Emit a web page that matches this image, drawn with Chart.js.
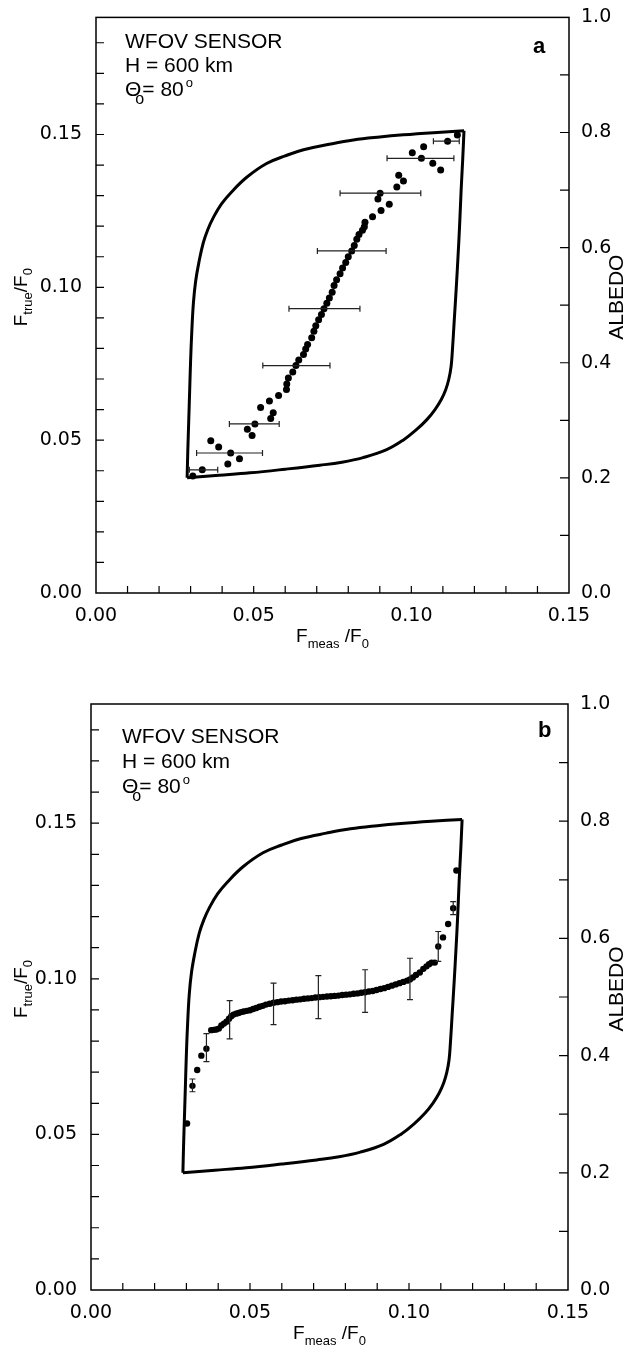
<!DOCTYPE html>
<html>
<head>
<meta charset="utf-8">
<script src="https://cdn.jsdelivr.net/npm/chart.js@4.4.0/dist/chart.umd.min.js"></script>
<style>
  html, body { margin: 0; padding: 0; background: #fff; }
  .panel { position: absolute; left: 0; width: 634px; height: 674px; }
</style>
</head>
<body>
<div class="panel" style="top:0"><canvas id="chartA" width="634" height="674"></canvas></div>
<div class="panel" style="top:674px"><canvas id="chartB" width="634" height="674"></canvas></div>
<script>
/* ---------- data ---------- */
// tick labels
const xLabels = ["0.00", "0.05", "0.10", "0.15"];
const yLabels = ["0.00", "0.05", "0.10", "0.15"];
const albedoLabels = ["0.0", "0.2", "0.4", "0.6", "0.8", "1.0"];

// envelope (same for both panels): upper branch and lower branch
const envUpX = [0.0289, 0.0291, 0.0294, 0.0297, 0.0300, 0.0304, 0.0309, 0.0316, 0.0326, 0.0340, 0.0355, 0.0372, 0.0398, 0.0430, 0.0478, 0.0541, 0.0600, 0.0658, 0.0740, 0.0816, 0.0900, 0.0975, 0.1070, 0.1167];
const envUpY = [0.0377, 0.0460, 0.0560, 0.0660, 0.0760, 0.0860, 0.0950, 0.1020, 0.1080, 0.1145, 0.1190, 0.1228, 0.1273, 0.1312, 0.1360, 0.1405, 0.1430, 0.1450, 0.1468, 0.1482, 0.1492, 0.1499, 0.1506, 0.1512];
const envLoX = [0.1167, 0.1163, 0.1158, 0.1153, 0.1148, 0.1142, 0.1136, 0.1130, 0.1126, 0.1119, 0.1109, 0.1095, 0.1075, 0.1050, 0.1017, 0.0974, 0.0920, 0.0847, 0.0780, 0.0710, 0.0600, 0.0488, 0.0390, 0.0289];
const envLoY = [0.1512, 0.1420, 0.1320, 0.1200, 0.1100, 0.0990, 0.0890, 0.0790, 0.0740, 0.0700, 0.0665, 0.0633, 0.0600, 0.0568, 0.0535, 0.0500, 0.0468, 0.0443, 0.0428, 0.0418, 0.0405, 0.0393, 0.0385, 0.0377];

// panel a points
const aX = [0.0307, 0.0337, 0.0364, 0.0389, 0.0418, 0.0427, 0.0455, 0.0480, 0.0495, 0.0504, 0.0522, 0.0550, 0.0554, 0.0562, 0.0579, 0.0604, 0.0605, 0.0610, 0.0624, 0.0634, 0.0643, 0.0658, 0.0665, 0.0671, 0.0684, 0.0691, 0.0697, 0.0706, 0.0715, 0.0723, 0.0732, 0.0740, 0.0749, 0.0755, 0.0763, 0.0774, 0.0782, 0.0792, 0.0800, 0.0811, 0.0819, 0.0827, 0.0834, 0.0845, 0.0851, 0.0853, 0.0877, 0.0904, 0.0930, 0.0894, 0.0901, 0.0954, 0.0975, 0.0960, 0.1003, 0.1039, 0.1032, 0.1068, 0.1093, 0.1115, 0.1146];
const aY = [0.0383, 0.0403, 0.0498, 0.0478, 0.0422, 0.0458, 0.0439, 0.0536, 0.0515, 0.0553, 0.0607, 0.0628, 0.0571, 0.0590, 0.0646, 0.0666, 0.0684, 0.0703, 0.0723, 0.0744, 0.0762, 0.0780, 0.0798, 0.0813, 0.0835, 0.0856, 0.0874, 0.0894, 0.0911, 0.0930, 0.0948, 0.0965, 0.0984, 0.1006, 0.1025, 0.1044, 0.1063, 0.1081, 0.1100, 0.1119, 0.1137, 0.1157, 0.1173, 0.1187, 0.1198, 0.1213, 0.1231, 0.1251, 0.1272, 0.1289, 0.1308, 0.1328, 0.1348, 0.1367, 0.1440, 0.1460, 0.1422, 0.1406, 0.1384, 0.1478, 0.1498];
// panel a horizontal error bars
const aErrY  = [0.0403, 0.0458, 0.0553, 0.0744, 0.0930, 0.1119, 0.1308, 0.1422, 0.1478];
const aErrLo = [0.0296, 0.0319, 0.0423, 0.0529, 0.0612, 0.0702, 0.0774, 0.0923, 0.1070];
const aErrHi = [0.0386, 0.0528, 0.0581, 0.0742, 0.0837, 0.0920, 0.1030, 0.1135, 0.1152];

// panel b points
const bX = [0.0302, 0.0319, 0.0334, 0.0347, 0.0363, 0.0378, 0.0386, 0.0394, 0.0402, 0.0410, 0.0418, 0.0426, 0.0434, 0.0441, 0.0448, 0.0456, 0.0464, 0.0472, 0.0480, 0.0490, 0.0500, 0.0510, 0.0520, 0.0530, 0.0540, 0.0550, 0.0562, 0.0574, 0.0586, 0.0598, 0.0610, 0.0622, 0.0634, 0.0646, 0.0658, 0.0670, 0.0682, 0.0694, 0.0706, 0.0718, 0.0730, 0.0742, 0.0754, 0.0766, 0.0778, 0.0790, 0.0802, 0.0814, 0.0826, 0.0838, 0.0850, 0.0862, 0.0874, 0.0886, 0.0898, 0.0910, 0.0922, 0.0934, 0.0946, 0.0958, 0.0970, 0.0982, 0.0994, 0.1003, 0.1012, 0.1022, 0.1034, 0.1045, 0.1055, 0.1063, 0.1071, 0.1081, 0.1092, 0.1107, 0.1123, 0.1139, 0.1149];
const bY = [0.0535, 0.0656, 0.0707, 0.0753, 0.0775, 0.0835, 0.0836, 0.0837, 0.0840, 0.0850, 0.0856, 0.0862, 0.0872, 0.0880, 0.0885, 0.0888, 0.0890, 0.0893, 0.0895, 0.0897, 0.0899, 0.0903, 0.0906, 0.0910, 0.0913, 0.0917, 0.0920, 0.0923, 0.0925, 0.0927, 0.0928, 0.0930, 0.0931, 0.0933, 0.0934, 0.0936, 0.0937, 0.0938, 0.0940, 0.0941, 0.0942, 0.0943, 0.0944, 0.0945, 0.0946, 0.0948, 0.0949, 0.0950, 0.0952, 0.0953, 0.0955, 0.0957, 0.0959, 0.0961, 0.0964, 0.0967, 0.0970, 0.0974, 0.0978, 0.0982, 0.0986, 0.0990, 0.0994, 0.0998, 0.1004, 0.1012, 0.1020, 0.1032, 0.1040, 0.1047, 0.1052, 0.1052, 0.1104, 0.1133, 0.1176, 0.1227, 0.1348];
// panel b vertical error bars
const bErrX  = [0.0319, 0.0363, 0.0436, 0.0574, 0.0715, 0.0862, 0.1003, 0.1092, 0.1139];
const bErrLo = [0.0637, 0.0734, 0.0807, 0.0853, 0.0872, 0.0892, 0.0933, 0.1056, 0.1206];
const bErrHi = [0.0678, 0.0824, 0.0930, 0.0986, 0.1010, 0.1029, 0.1066, 0.1152, 0.1248];

/* ---------- drawing helpers ---------- */
const SANS = '"Liberation Sans", Arial, sans-serif';
const TICKFONT = { family: '"DejaVu Sans", sans-serif', size: 19 };

function fillParts(ctx, parts, x, y) {
  parts.forEach(p => {
    ctx.font = p.f;
    ctx.fillText(p.t, x, y + (p.dy || 0));
    x += ctx.measureText(p.t).width;
  });
}
function partsWidth(ctx, parts) {
  let w = 0;
  parts.forEach(p => { ctx.font = p.f; w += ctx.measureText(p.t).width; });
  return w;
}

const big = "19px " + SANS, sub = "13px " + SANS;
const yTitle = [{ t: "F", f: big }, { t: "true", f: sub, dy: 5 }, { t: "/F", f: big }, { t: "0", f: sub, dy: 5 }];
const xTitle = [{ t: "F", f: big }, { t: "meas", f: sub, dy: 6 }, { t: " /F", f: big }, { t: "0", f: sub, dy: 6 }];

const decor = {
  id: "decor",
  afterDatasetsDraw(chart, args, o) {
    const ctx = chart.ctx;
    const { x, y } = chart.scales;
    ctx.save();
    ctx.strokeStyle = "#222";
    ctx.lineWidth = 1.2;
    ctx.beginPath();
    if (o.hErr) {
      o.hErr.y.forEach((v, i) => {
        const py = y.getPixelForValue(v);
        const x1 = x.getPixelForValue(o.hErr.lo[i]), x2 = x.getPixelForValue(o.hErr.hi[i]);
        ctx.moveTo(x1, py); ctx.lineTo(x2, py);
        ctx.moveTo(x1, py - 3); ctx.lineTo(x1, py + 3);
        ctx.moveTo(x2, py - 3); ctx.lineTo(x2, py + 3);
      });
    }
    if (o.vErr) {
      o.vErr.x.forEach((v, i) => {
        const px = x.getPixelForValue(v);
        const y1 = y.getPixelForValue(o.vErr.lo[i]), y2 = y.getPixelForValue(o.vErr.hi[i]);
        ctx.moveTo(px, y1); ctx.lineTo(px, y2);
        ctx.moveTo(px - 3, y1); ctx.lineTo(px + 3, y1);
        ctx.moveTo(px - 3, y2); ctx.lineTo(px + 3, y2);
      });
    }
    ctx.stroke();
    ctx.restore();
  },
  afterDraw(chart, args, o) {
    const ctx = chart.ctx, a = chart.chartArea;
    const { x, y, y2 } = chart.scales;
    ctx.save();
    // frame
    ctx.strokeStyle = "#000";
    ctx.lineWidth = 1.5;
    ctx.strokeRect(a.left, a.top, a.right - a.left, a.bottom - a.top);
    // inward ticks
    ctx.lineWidth = 1.2;
    ctx.beginPath();
    x.ticks.forEach(t => {
      const p = x.getPixelForValue(t.value);
      if (p <= a.left + 1 || p >= a.right - 1) return;
      ctx.moveTo(p, a.bottom); ctx.lineTo(p, a.bottom - 7);
    });
    y.ticks.forEach(t => {
      const p = y.getPixelForValue(t.value);
      if (p >= a.bottom - 1 || p <= a.top + 1) return;
      ctx.moveTo(a.left, p); ctx.lineTo(a.left + 8, p);
    });
    y2.ticks.forEach(t => {
      const p = y2.getPixelForValue(t.value);
      if (p >= a.bottom - 1 || p <= a.top + 1) return;
      ctx.moveTo(a.right, p); ctx.lineTo(a.right - 9, p);
    });
    ctx.stroke();

    // annotation text
    ctx.fillStyle = "#000";
    ctx.textBaseline = "alphabetic";
    ctx.textAlign = "left";
    const f = "21px " + SANS;
    ctx.font = f;
    ctx.fillText(o.lines[0], o.tx, o.ty[0]);
    ctx.fillText(o.lines[1], o.tx, o.ty[1]);
    const wTh = ctx.measureText("\u0398").width;
    ctx.fillText("\u0398", o.tx, o.ty[2]);
    ctx.font = "16px " + SANS;
    ctx.fillText("o", o.tx + wTh - 6, o.ty[2] + 8);
    ctx.font = f;
    ctx.fillText("= 80", o.tx + wTh + 1, o.ty[2]);
    const w80 = ctx.measureText("= 80").width;
    ctx.font = "13px " + SANS;
    ctx.fillText("o", o.tx + wTh + w80 + 3, o.ty[2] - 9);
    // panel letter
    ctx.font = "bold 22px " + SANS;
    ctx.fillText(o.letter, o.lx, o.ly);

    // x title
    const cx = (a.left + a.right) / 2;
    const wx = partsWidth(ctx, xTitle);
    fillParts(ctx, xTitle, cx - wx / 2, a.bottom + 49);
    // y title (rotated)
    const cy = (a.top + a.bottom) / 2 - 8;
    ctx.save();
    ctx.translate(27, cy);
    ctx.rotate(-Math.PI / 2);
    const wy = partsWidth(ctx, yTitle);
    fillParts(ctx, yTitle, -wy / 2, 0);
    ctx.restore();
    // ALBEDO
    ctx.save();
    ctx.translate(623, cy);
    ctx.rotate(-Math.PI / 2);
    ctx.font = "21px " + SANS;
    ctx.textAlign = "center";
    ctx.fillText("ALBEDO", 0, 0);
    ctx.restore();
    ctx.restore();
  }
};

function envLine(xs, ys) {
  return {
    data: xs.map((v, i) => ({ x: v, y: ys[i] })),
    showLine: true,
    borderColor: "#000",
    borderWidth: 3,
    pointRadius: 0,
    tension: 0.4
  };
}

function makeChart(id, box, pts, ptRadius, extra) {
  return new Chart(document.getElementById(id), {
    type: "scatter",
    data: {
      datasets: [
        envLine(envUpX, envUpY),
        envLine(envLoX, envLoY),
        {
          data: pts.x.map((v, i) => ({ x: v, y: pts.y[i] })),
          pointRadius: ptRadius,
          pointBackgroundColor: "#000",
          pointBorderWidth: 0,
          showLine: false
        }
      ]
    },
    options: {
      responsive: false,
      animation: false,
      events: [],
      layout: { padding: { top: box.top, left: 0, right: 0, bottom: 0 } },
      plugins: {
        legend: { display: false },
        tooltip: { enabled: false },
        decor: extra
      },
      scales: {
        x: {
          type: "linear",
          min: 0, max: 0.15,
          afterFit: s => { s.height = 674 - box.bottom; },
          grid: { display: false },
          border: { display: false },
          ticks: {
            stepSize: 0.01, autoSkip: false, maxRotation: 0, padding: 4,
            color: "#000", font: TICKFONT,
            callback: v => { const k = Math.round(v * 100); return k % 5 === 0 ? xLabels[k / 5] : ""; }
          }
        },
        y: {
          type: "linear",
          min: 0, max: 0.1883,
          afterFit: s => { s.width = box.left; },
          grid: { display: false },
          border: { display: false },
          ticks: {
            stepSize: 0.01, includeBounds: false, autoSkip: false, padding: 6,
            color: "#000", font: TICKFONT,
            callback: v => { const k = Math.round(v * 100); return k % 5 === 0 ? yLabels[k / 5] : ""; }
          }
        },
        y2: {
          type: "linear",
          position: "right",
          min: 0, max: 1,
          afterFit: s => { s.width = 634 - box.right; },
          grid: { display: false },
          border: { display: false },
          ticks: {
            stepSize: 0.1, autoSkip: false, padding: 4,
            color: "#000", font: TICKFONT,
            callback: v => { const k = Math.round(v * 10); return k % 2 === 0 ? albedoLabels[k / 2] : ""; }
          }
        }
      }
    },
    plugins: [decor]
  });
}

makeChart("chartA", { left: 96, right: 569, top: 13, bottom: 593 }, { x: aX, y: aY }, 3.5, {
  hErr: { y: aErrY, lo: aErrLo, hi: aErrHi },
  lines: ["WFOV SENSOR", "H = 600 km"], tx: 125, ty: [48, 72, 96],
  letter: "a", lx: 533, ly: 53
});

makeChart("chartB", { left: 91, right: 568, top: 30, bottom: 616 }, { x: bX, y: bY }, 3.2, {
  vErr: { x: bErrX, lo: bErrLo, hi: bErrHi },
  lines: ["WFOV SENSOR", "H = 600 km"], tx: 122, ty: [69, 94, 119],
  letter: "b", lx: 538, ly: 63
});
</script>
</body>
</html>
